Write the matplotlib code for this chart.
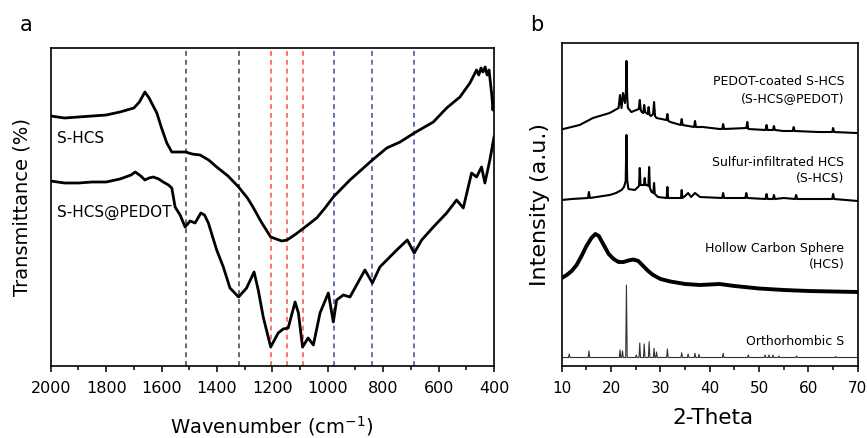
"""FTIR (a) and XRD (b) panels for S-HCS / S-HCS@PEDOT."""

import matplotlib

matplotlib.use("Agg")  # headless

import matplotlib.pyplot as plt
from matplotlib.ticker import MultipleLocator

plt.rcParams["font.family"] = ["DejaVu Sans"]

# ---- panel a: FTIR (arbitrary transmittance units) ----
shcs_wn = [2000, 1950, 1900, 1850, 1800, 1750, 1700, 1680, 1660, 1645, 1617, 1600,
           1581, 1563, 1540, 1513, 1490, 1461, 1430, 1401, 1360, 1322, 1290, 1270,
           1240, 1206, 1166, 1147, 1120, 1091, 1040, 1010, 980, 920, 839, 787, 739,
           688, 619, 571, 523, 487, 463, 455, 447, 440, 432, 425, 418, 412, 408, 404, 400]
shcs_t = [250, 248, 249, 250, 251, 254, 258, 264, 274, 268, 253, 238,
          223, 214, 214, 214, 212, 211, 206, 199, 190, 179, 168, 159,
          144, 129, 125, 126, 131, 137, 148, 158, 169, 186, 206, 218, 224,
          233, 244, 258, 269, 283, 296, 291, 298, 294, 299, 291, 296, 281, 271, 256, 266]

pedot_wn = [2000, 1950, 1900, 1850, 1800, 1750, 1710, 1695, 1675, 1660, 1645, 1630,
            1610, 1594, 1575, 1563, 1551, 1533, 1515, 1497, 1479, 1458, 1445, 1431,
            1401, 1377, 1353, 1322, 1293, 1266, 1251, 1233, 1206, 1179, 1161, 1143,
            1118, 1106, 1091, 1071, 1052, 1028, 998, 980, 968, 944, 920, 896, 866,
            839, 812, 751, 713, 688, 661, 619, 571, 535, 511, 481, 463, 445, 433, 415, 400]
pedot_t = [185, 183, 183, 184, 184, 187, 191, 194, 190, 186, 188, 189,
           187, 184, 181, 178, 159, 151, 139, 145, 143, 153, 151, 143,
           116, 99, 78, 69, 78, 94, 76, 49, 19, 33, 37, 38,
           64, 53, 19, 28, 21, 53, 73, 44, 66, 71, 69, 81, 96,
           83, 99, 116, 126, 113, 126, 139, 153, 166, 158, 193, 189, 199, 183, 206, 229]

# dashed reference lines (cm-1)
ref_black = [1513, 1322]
ref_red = [1206, 1147, 1091]
ref_blue = [978, 839, 688]

# ---- panel b: XRD (arbitrary intensity) ----
pedot_tt = [10.3, 13.6, 16.3, 19.7, 21.5, 21.8, 22.1, 22.4, 22.8, 23.0, 23.1, 23.25,
            23.4, 24.1, 25.6, 25.8, 26.0, 26.2, 26.5, 26.7, 26.9, 27.1, 27.4, 27.6,
            27.8, 28.1, 28.5, 28.7, 28.9, 29.2, 31.2, 31.4, 31.6, 32.0, 34.1, 34.3,
            34.5, 36.8, 37.0, 37.2, 38.6, 42.0, 42.5, 42.7, 42.9, 47.4, 47.6, 47.8,
            51.3, 51.5, 51.7, 52.8, 53.0, 53.2, 54.9, 56.8, 57.0, 57.2, 62.0, 64.8,
            65.0, 65.2, 69.7]
pedot_i = [237, 241, 248, 253, 258, 271, 258, 273, 263, 275, 305, 270,
           258, 254, 257, 266, 256, 254, 253, 261, 254, 253, 252, 259,
           251, 250, 252, 264, 250, 248, 246, 252, 245, 244, 241, 247,
           241, 239, 245, 239, 239, 237, 237, 242, 237, 238, 244, 237,
           236, 241, 236, 236, 240, 236, 235, 235, 239, 235, 234, 234,
           238, 234, 233]

shcs_tt = [10.0, 12.0, 15.3, 15.5, 15.7, 17.0, 19.7, 21.0, 22.1, 22.6, 22.95, 23.1,
           23.25, 23.5, 24.8, 25.65, 25.8, 25.95, 26.2, 26.65, 26.8, 26.95, 27.2,
           27.55, 27.7, 27.85, 28.2, 28.55, 28.7, 28.85, 29.5, 31.25, 31.4, 31.55,
           32.0, 34.15, 34.3, 34.45, 35.0, 35.6, 36.2, 37.0, 38.0, 42.5, 42.7, 42.9,
           47.2, 47.4, 47.6, 51.3, 51.5, 51.7, 52.8, 53.0, 53.2, 55.0, 57.3, 57.5,
           57.7, 60.0, 64.8, 65.0, 65.2, 70.0]
shcs_i = [166, 167, 168, 174, 168, 169, 171, 173, 176, 179, 185, 231,
          186, 177, 176, 180, 198, 181, 181, 181, 188, 181, 181,
          180, 199, 178, 174, 173, 183, 172, 169, 168, 179, 168,
          168, 168, 176, 168, 170, 173, 169, 173, 169, 168, 173, 168,
          168, 173, 168, 167, 172, 167, 167, 171, 167, 168, 167, 171,
          167, 167, 167, 172, 167, 165]

hcs_tt = [10, 11, 12, 13, 14, 15, 16, 16.8, 17.5, 18.5, 19.5, 20.5, 21.5, 22.5,
          23.5, 24.5, 25.5, 26.5, 27.5, 28.5, 30, 32, 35, 38, 42, 45, 50, 55, 60, 65, 70]
hcs_i = [88, 91, 95, 101, 110, 120, 128, 132, 130, 121, 112, 107, 104, 104,
         105.5, 106.5, 105, 100, 95, 91, 87, 84.5, 82, 81, 82, 80, 77.5, 76, 75, 74.5, 74]

orth_tt = [10.0, 11.35, 11.5, 11.65, 15.35, 15.5, 15.65, 21.65, 21.8, 21.95, 22.15,
           22.3, 22.45, 22.95, 23.1, 23.25, 24.95, 25.1, 25.25, 25.65, 25.8, 25.95,
           26.55, 26.7, 26.85, 27.55, 27.7, 27.85, 28.55, 28.7, 28.85, 29.05, 29.2,
           29.35, 31.25, 31.4, 31.55, 34.15, 34.3, 34.45, 35.45, 35.6, 35.75, 36.85,
           37.0, 37.15, 37.65, 37.8, 37.95, 42.55, 42.7, 42.85, 47.65, 47.8, 47.95,
           51.05, 51.2, 51.35, 51.85, 52.0, 52.15, 52.65, 52.8, 52.95, 53.85, 54.0,
           54.15, 57.45, 57.6, 57.75, 65.35, 65.5, 65.65, 70.0]
orth_i = [8.5, 8.5, 12, 8.5, 8.5, 15, 8.5, 8.5, 16, 8.5, 8.5,
          15, 8.5, 8.5, 81, 8.5, 8.5, 11, 8.5, 8.5, 23, 8.5,
          8.5, 22, 8.5, 8.5, 24.3, 8.5, 8.5, 17.7, 8.5, 8.5, 14,
          8.5, 8.5, 17, 8.5, 8.5, 13.3, 8.5, 8.5, 12, 8.5, 8.5,
          12.7, 8.5, 8.5, 11.7, 8.5, 8.5, 12.7, 8.5, 8.5, 11, 8.5,
          8.5, 11, 8.5, 8.5, 11, 8.5, 8.5, 11, 8.5, 8.5, 10,
          8.5, 8.5, 10, 8.5, 8.5, 9.5, 8.5, 8.5]

fig = plt.figure(figsize=(8.67, 4.38), dpi=100)

# ---------------- a ----------------
ax = fig.add_axes([0.0585, 0.1644, 0.5113, 0.726])
for x in ref_black:
    ax.axvline(x, color="#404040", lw=1.1, ls=(0, (3.2, 2.6)))
for x in ref_red:
    ax.axvline(x, color="#ff4a4a", lw=1.1, ls=(0, (3.2, 2.6)))
for x in ref_blue:
    ax.axvline(x, color="#3a4aa8", lw=1.1, ls=(0, (3.2, 2.6)))
ax.plot(shcs_wn, shcs_t, color="black", lw=2.0, solid_joinstyle="round")
ax.plot(pedot_wn, pedot_t, color="black", lw=2.0, solid_joinstyle="round")
ax.set_xlim(2000, 400)
ax.set_ylim(0, 318)
ax.xaxis.set_major_locator(MultipleLocator(200))
ax.xaxis.set_minor_locator(MultipleLocator(100))
ax.set_yticks([])
ax.tick_params(axis="x", which="major", direction="out", length=4.5, width=1.1,
               labelsize=11.5, pad=6)
ax.tick_params(axis="x", which="minor", direction="out", length=3, width=1.1)
for s in ax.spines.values():
    s.set_linewidth(1.2)
ax.text(0.015, 0.715, "S-HCS", transform=ax.transAxes, fontsize=11, va="center")
ax.text(0.015, 0.483, "S-HCS@PEDOT", transform=ax.transAxes, fontsize=11, va="center")
ax.set_xlabel("Wavenumber (cm$^{-1}$)", fontsize=14, va="center")
ax.xaxis.set_label_coords(0.499, -0.19)
ax.set_ylabel("Transmittance (%)", fontsize=14, va="center")
ax.yaxis.set_label_coords(-0.065, 0.5)
fig.text(26 / 867, 1 - 25 / 438, "a", fontsize=15, ha="center", va="center")

# ---------------- b ----------------
bx = fig.add_axes([0.648, 0.1644, 0.3414, 0.7374])
bx.plot(pedot_tt, pedot_i, color="black", lw=1.5)
bx.plot(shcs_tt, shcs_i, color="black", lw=1.5)
bx.plot(hcs_tt, hcs_i, color="black", lw=2.8)
bx.plot(orth_tt, orth_i, color="#333333", lw=0.8)
bx.set_xlim(10, 70)
bx.set_ylim(0, 323)
bx.xaxis.set_major_locator(MultipleLocator(10))
bx.xaxis.set_minor_locator(MultipleLocator(5))
bx.set_yticks([])
bx.tick_params(axis="x", which="major", direction="out", length=4.5, width=1.1,
               labelsize=11, pad=6)
bx.tick_params(axis="x", which="minor", direction="out", length=3, width=1.1)
for s in bx.spines.values():
    s.set_linewidth(1.2)
labels_b = [("PEDOT-coated S-HCS\n(S-HCS@PEDOT)", 90),
            ("Sulfur-infiltrated HCS\n(S-HCS)", 170.5),
            ("Hollow Carbon Sphere\n(HCS)", 256.5),
            ("Orthorhombic S", 341.7)]
for txt, py in labels_b:
    bx.text(0.955, (366 - py) / 323, txt, transform=bx.transAxes, fontsize=9,
            ha="right", va="center", multialignment="right", linespacing=1.35)
bx.set_xlabel("2-Theta", fontsize=15.5, va="center")
bx.xaxis.set_label_coords(0.51, -0.161)
bx.set_ylabel("Intensity (a.u.)", fontsize=16, va="center")
bx.yaxis.set_label_coords(-0.074, 0.5)
fig.text(537 / 867, 1 - 25 / 438, "b", fontsize=15, ha="center", va="center")

fig.savefig("out.png", dpi=100)
plt.close(fig)
